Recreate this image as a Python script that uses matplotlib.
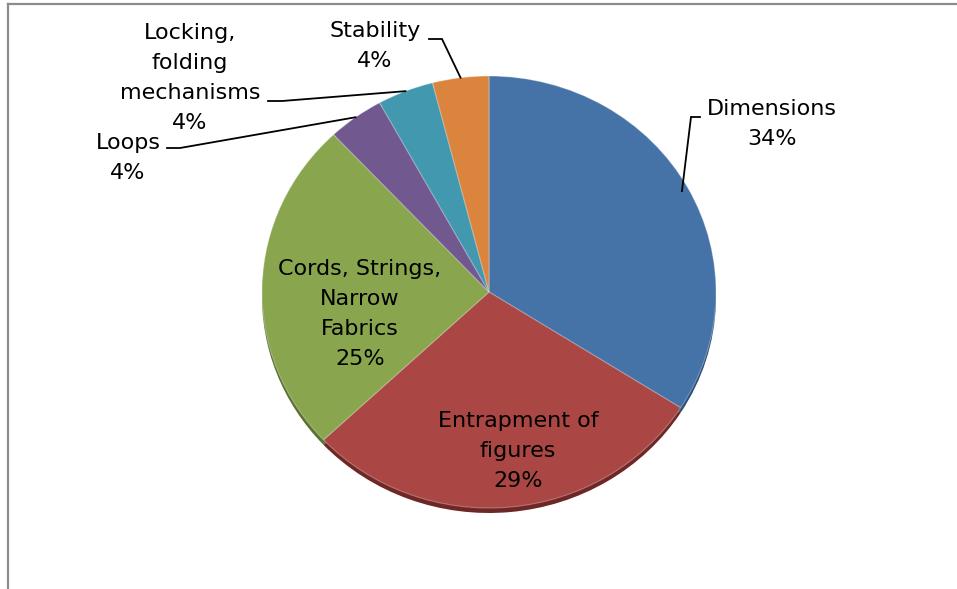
import numpy as np
import matplotlib
matplotlib.use("Agg")
import matplotlib.pyplot as plt
from matplotlib.lines import Line2D

# Share of each issue category (percent)
categories = ["Dimensions", "Entrapment of figures", "Cords, Strings, Narrow Fabrics",
              "Loops", "Locking, folding mechanisms", "Stability"]
shares = [34, 29, 25, 4, 4, 4]
label_text = ["Dimensions", "Entrapment of\nfigures", "Cords, Strings,\nNarrow\nFabrics",
              "Loops", "Locking,\nfolding\nmechanisms", "Stability"]
colors = ["#4572A7", "#AA4643", "#89A54E", "#71588F", "#4198AF", "#DB843D"]
dark_colors = ["#2c4f7a", "#6e2725", "#5b7232", "#4b3a62", "#2a6b7c", "#9a5a26"]

W, H = 957, 589
CX, CY = 489, 292       # pie centre in pixels (from top-left)
RX, RY = 227, 216       # horizontal / vertical radius in pixels

fig = plt.figure(figsize=(W / 100, H / 100), dpi=100)
ax = fig.add_axes([0, 0, 1, 1])


def px(x, y):
    """pixel position (from top-left) -> data coordinates"""
    return (x - CX) / RX, (CY - y) / RY


# darker rim underneath for a slight depth effect
ax.pie(shares, colors=dark_colors, startangle=90, counterclock=False,
       radius=1.0, center=(0, -5 / RY), frame=True,
       wedgeprops=dict(linewidth=0))
wedges, _ = ax.pie(shares, colors=colors, startangle=90, counterclock=False,
                   radius=1.0, center=(0, 0), frame=True,
                   wedgeprops=dict(linewidth=0.8, edgecolor=(1, 1, 1, 0.3)))
ax.set_xlim(-CX / RX, (W - CX) / RX)
ax.set_ylim(-(H - CY) / RY, CY / RY)
ax.set_aspect("auto")
ax.axis("off")

font = dict(fontsize=16, color="black", ha="center", va="center",
            linespacing=1.62, family="DejaVu Sans")

# label anchors (pixel positions of text block centres)
label_pos = {
    "Dimensions": (772, 124),
    "Entrapment of figures": (518, 451),
    "Cords, Strings, Narrow Fabrics": (360, 314),
    "Loops": (128, 158),
    "Locking, folding mechanisms": (190, 78),
    "Stability": (375, 46),
}
# leader line starting points and stub ends (pixels)
leaders = {
    "Dimensions": [(700, 117), (691, 117)],
    "Loops": [(167, 148), (180, 148)],
    "Locking, folding mechanisms": [(268, 101), (282, 101)],
    "Stability": [(429, 39), (442, 39)],
}

cum = np.cumsum([0] + shares)
for i, name in enumerate(categories):
    txt = f"{label_text[i]}\n{shares[i]}%"
    x, y = label_pos[name]
    ax.text(*px(x, y), txt, **font)
    if name in leaders:
        mid = (cum[i] + cum[i + 1]) / 2 / sum(shares)
        ang = np.deg2rad(90 - 360 * mid)
        r = 0.97 if name == "Dimensions" else 1.0
        ex, ey = r * np.cos(ang), r * np.sin(ang)
        (sx, sy), (kx, ky) = leaders[name]
        p0, p1 = px(sx, sy), px(kx, ky)
        ax.add_line(Line2D([p0[0], p1[0], ex], [p0[1], p1[1], ey],
                           color="black", lw=1.3, solid_joinstyle="miter"))

# chart area border (top and left edges)
fig.add_artist(Line2D([8 / W, 1], [1 - 4 / H, 1 - 4 / H], color="#8c8c8c", lw=1.6,
                      transform=fig.transFigure))
fig.add_artist(Line2D([8 / W, 8 / W], [1 - 4 / H, 0], color="#8c8c8c", lw=1.6,
                      transform=fig.transFigure))

fig.savefig("out.png", dpi=100, facecolor="white")
